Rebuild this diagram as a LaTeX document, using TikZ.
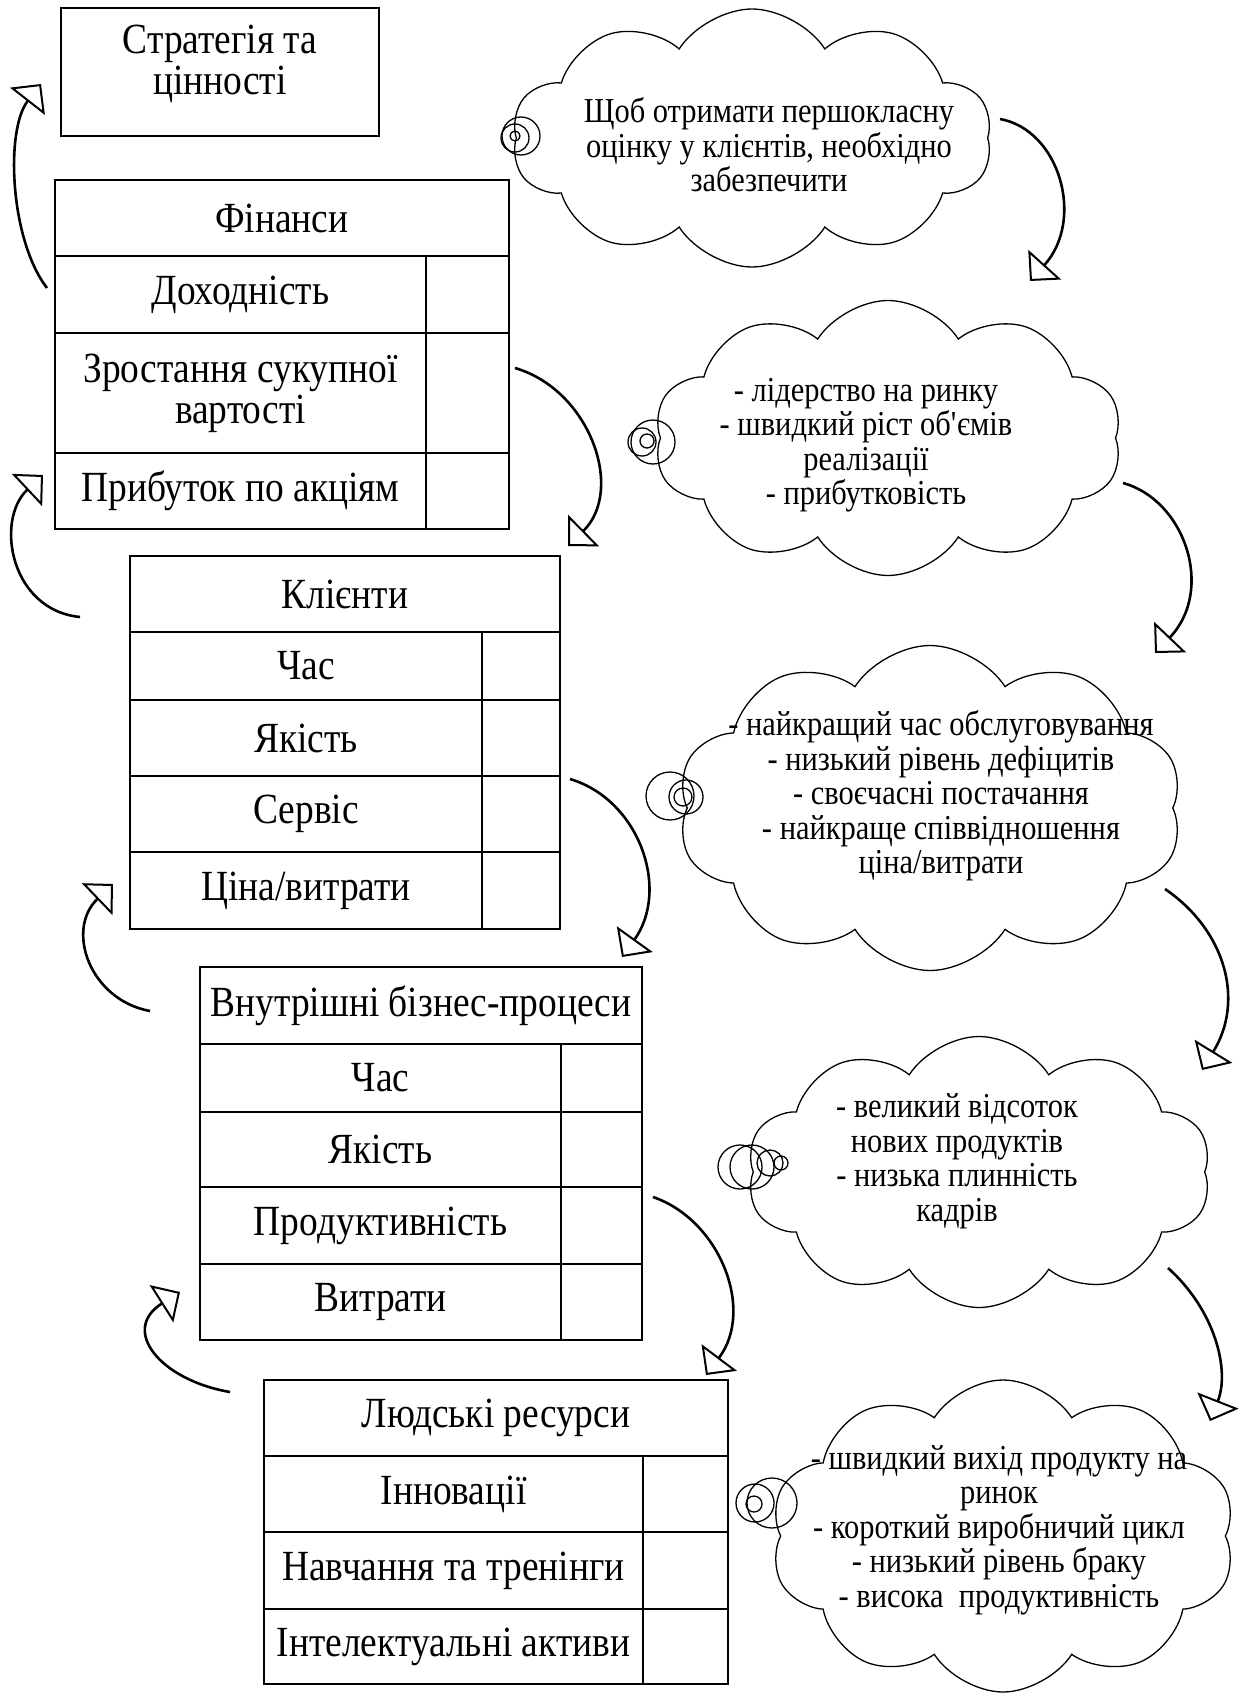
\documentclass[tikz,border=0pt]{standalone}
\usepackage{fontspec}
\setmainfont{Liberation Serif}[FakeStretch=0.87]
\usepackage{tikz}
\usetikzlibrary{arrows.meta,positioning,shapes.symbols}
\newcommand{\BigText}{\fontsize{43}{41}\selectfont}
\newcommand{\CloudText}{\fontsize{35}{34.5}\selectfont}

\begin{document}
\begin{tikzpicture}[x=1pt,y=-1pt]
\tikzstyle{plain}=[draw, line width=2pt, inner sep=0pt, outer sep=0pt, font=\BigText, align=center]
\tikzstyle{cell}=[plain, anchor=north west]
\tikzstyle{thought}=[cloud, draw, cloud puffs=10, cloud puff arc=115, cloud ignores aspect, line width=1.3pt, inner sep=0pt]
\tikzstyle{note}=[font=\CloudText, align=center, inner sep=0pt]
\tikzstyle{bubble}=[draw, circle, line width=1.3pt, inner sep=0pt]
\tikzstyle{turn}=[line width=2.6pt, -{Triangle[open, length=22pt, width=44pt, line width=2pt]}]
\useasboundingbox (0,0) rectangle (1251,1693);

\draw node [plain, anchor=north west, line width=1.8pt, minimum width=318pt, minimum height=128pt, text depth=24pt] at (61,8) (strat) {Стратегія та\\цінності};

% finance
\draw node [cell, minimum width=454pt, minimum height=76pt] at (55,180) (fin) {Фінанси};
\draw node [cell, minimum width=371pt, minimum height=77pt] at (fin.south west) (dohid) {Доходність};
\draw node [cell, minimum width=83pt, minimum height=77pt] at (dohid.north east) (dohidV) {};
\draw node [cell, minimum width=371pt, minimum height=120pt] at (dohid.south west) (zrost) {Зростання сукупної\\вартості};
\draw node [cell, minimum width=83pt, minimum height=120pt] at (zrost.north east) (zrostV) {};
\draw node [cell, minimum width=371pt, minimum height=76pt] at (zrost.south west) (prib) {Прибуток по акціям};
\draw node [cell, minimum width=83pt, minimum height=76pt] at (prib.north east) (pribV) {};

% clients
\draw node [cell, minimum width=430pt, minimum height=76pt] at (130,556) (kli) {Клієнти};
\draw node [cell, minimum width=352pt, minimum height=68pt] at (kli.south west) (kChas) {Час};
\draw node [cell, minimum width=78pt, minimum height=68pt] at (kChas.north east) (kChasV) {};
\draw node [cell, minimum width=352pt, minimum height=76pt] at (kChas.south west) (kYak) {Якість};
\draw node [cell, minimum width=78pt, minimum height=76pt] at (kYak.north east) (kYakV) {};
\draw node [cell, minimum width=352pt, minimum height=76pt] at (kYak.south west) (kServ) {Сервіс};
\draw node [cell, minimum width=78pt, minimum height=76pt] at (kServ.north east) (kServV) {};
\draw node [cell, minimum width=352pt, minimum height=77pt] at (kServ.south west) (kTsina) {Ціна/витрати};
\draw node [cell, minimum width=78pt, minimum height=77pt] at (kTsina.north east) (kTsinaV) {};

% internal processes
\draw node [cell, minimum width=442pt, minimum height=77pt] at (200,967) (bp) {Внутрішні бізнес-процеси};
\draw node [cell, minimum width=361pt, minimum height=68pt] at (bp.south west) (bChas) {Час};
\draw node [cell, minimum width=81pt, minimum height=68pt] at (bChas.north east) (bChasV) {};
\draw node [cell, minimum width=361pt, minimum height=75pt] at (bChas.south west) (bYak) {Якість};
\draw node [cell, minimum width=81pt, minimum height=75pt] at (bYak.north east) (bYakV) {};
\draw node [cell, minimum width=361pt, minimum height=77pt] at (bYak.south west) (bProd) {Продуктивність};
\draw node [cell, minimum width=81pt, minimum height=77pt] at (bProd.north east) (bProdV) {};
\draw node [cell, minimum width=361pt, minimum height=76pt] at (bProd.south west) (bVytr) {Витрати};
\draw node [cell, minimum width=81pt, minimum height=76pt] at (bVytr.north east) (bVytrV) {};

% people
\draw node [cell, minimum width=464pt, minimum height=76pt] at (264,1380) (lr) {Людські ресурси};
\draw node [cell, minimum width=379pt, minimum height=76pt] at (lr.south west) (lInn) {Інновації};
\draw node [cell, minimum width=85pt, minimum height=76pt] at (lInn.north east) (lInnV) {};
\draw node [cell, minimum width=379pt, minimum height=77pt] at (lInn.south west) (lNavch) {Навчання та тренінги};
\draw node [cell, minimum width=85pt, minimum height=77pt] at (lNavch.north east) (lNavchV) {};
\draw node [cell, minimum width=379pt, minimum height=75pt] at (lNavch.south west) (lIntel) {Інтелектуальні активи};
\draw node [cell, minimum width=85pt, minimum height=75pt] at (lIntel.north east) (lIntelV) {};

% clouds
\draw node [thought, minimum width=480pt, minimum height=258pt] at (752,138) (cloudA) {};
\draw node [note] at (769,145) (noteA) {Щоб отримати першокласну\\оцінку у клієнтів, необхідно\\забезпечити};
\draw node [thought, minimum width=468pt, minimum height=275pt] at (888,438) (cloudB) {};
\draw node [note] at (866,445) (noteB) {- лідерство на ринку\\- швидкий ріст об\textquotesingle{}ємів\\реалізації\\- прибутковість};
\draw node [thought, minimum width=505pt, minimum height=325pt] at (930,808) (cloudC) {};
\draw node [note] at (941,796) (noteC) {- найкращий час обслуговування\\- низький рівень дефіцитів\\- своєчасні постачання\\- найкраще співвідношення\\ціна/витрати};
\draw node [thought, minimum width=464pt, minimum height=271pt] at (979,1172) (cloudD) {};
\draw node [note] at (957,1161) (noteD) {- великий відсоток\\нових продуктів\\- низька плинність\\кадрів};
\draw node [thought, minimum width=465pt, minimum height=312pt] at (1003,1536) (cloudE) {};
\draw node [note] at (999,1530) (noteE) {- швидкий вихід продукту на\\ринок\\- короткий виробничий цикл\\- низький рівень браку\\- висока\ \ продуктивність};

% little circles
\draw node [bubble, minimum size=38pt] at (521,136) (a1) {};
\draw node [bubble, minimum size=28pt] at (515,138) (a2) {};
\draw node [bubble, minimum size=10pt] at (515,136) (a3) {};
\draw node [bubble, minimum size=44pt] at (653,442) (b1) {};
\draw node [bubble, minimum size=28pt] at (642,442) (b2) {};
\draw node [bubble, minimum size=14pt] at (647,441) (b3) {};
\draw node [bubble, minimum size=48pt] at (670,796) (c1) {};
\draw node [bubble, minimum size=34pt] at (686,797) (c2) {};
\draw node [bubble, minimum size=18pt] at (683,797) (c3) {};
\draw node [bubble, minimum size=44pt] at (740,1167) (d1) {};
\draw node [bubble, minimum size=44pt] at (752,1167) (d2) {};
\draw node [bubble, minimum size=26pt] at (770,1163) (d3) {};
\draw node [bubble, minimum size=14pt] at (781,1163) (d4) {};
\draw node [bubble, minimum size=50pt] at (772,1503) (e1) {};
\draw node [bubble, minimum size=38pt] at (755,1503) (e2) {};
\draw node [bubble, minimum size=16pt] at (754,1504) (e3) {};

% arrow ends
\coordinate (finOut) at (47,288);    \coordinate (stratIn) at (41,84);
\coordinate (kliOut) at (80,617);    \coordinate (finIn) at (43,475);
\coordinate (bpOut) at (150,1011);   \coordinate (kliIn) at (113,884);
\coordinate (lrOut) at (230,1392);   \coordinate (bpIn) at (180,1292);
\coordinate (finDown) at (515,368);  \coordinate (kliTop) at (568,546);
\coordinate (kliDown) at (570,779);  \coordinate (bpTop) at (622,957);
\coordinate (bpDown) at (653,1197);  \coordinate (lrTop) at (706,1375);
\coordinate (aOut) at (1000,119);    \coordinate (bIn) at (1030,281);
\coordinate (bOut) at (1123,483);    \coordinate (cIn) at (1155,653);
\coordinate (cOut) at (1165,889);    \coordinate (dIn) at (1202,1070);
\coordinate (dOut) at (1168,1268);   \coordinate (eIn) at (1210,1421);

\draw [turn] (finOut) .. controls (10,240) and (5,130) .. (stratIn);
\draw [turn] (kliOut) .. controls (10,610) and (-5,520) .. (finIn);
\draw [turn] (bpOut) .. controls (90,1000) and (65,930) .. (kliIn);
\draw [turn] (lrOut) .. controls (160,1380) and (120,1330) .. (bpIn);

\draw [turn] (finDown) .. controls (590,390) and (625,490) .. (kliTop);
\draw [turn] (kliDown) .. controls (640,800) and (670,890) .. (bpTop);
\draw [turn] (bpDown) .. controls (720,1220) and (755,1310) .. (lrTop);

\draw [turn] (aOut) .. controls (1060,130) and (1085,220) .. (bIn);
\draw [turn] (bOut) .. controls (1185,500) and (1215,590) .. (cIn);
\draw [turn] (cOut) .. controls (1225,930) and (1245,1000) .. (dIn);
\draw [turn] (dOut) .. controls (1215,1310) and (1230,1370) .. (eIn);
\end{tikzpicture}
\end{document}
